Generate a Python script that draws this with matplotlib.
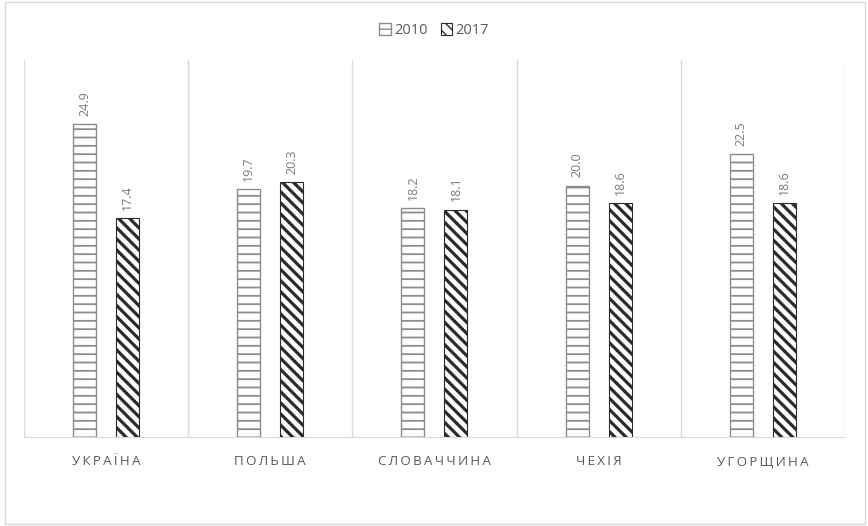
import matplotlib.pyplot as plt
import matplotlib as mpl
import numpy as np
from matplotlib.patches import Rectangle

plt.rcParams['font.family'] = ['Open Sans', 'DejaVu Sans']

countries = ['УКРАЇНА', 'ПОЛЬША', 'СЛОВАЧЧИНА', 'ЧЕХІЯ', 'УГОРЩИНА']
years = ['2010', '2017']
values_2010 = [24.9, 19.7, 18.2, 20.0, 22.5]
values_2017 = [17.4, 20.3, 18.1, 18.6, 18.6]

fig = plt.figure(figsize=(8.68, 5.26), dpi=100)
ax = fig.add_axes([0.0276, 0.1692, 0.9459, 0.7168])

x = np.arange(len(countries))
w = 0.14
off = 0.131

# 2010 - horizontal stripes, 2017 - dense diagonal stripes
with mpl.rc_context({'hatch.linewidth': 1.3}):
    b1 = ax.bar(x - off, values_2010, w, color='white', edgecolor='#8c8c8c',
                hatch='--', linewidth=1.0, label=years[0], zorder=3)
with mpl.rc_context({'hatch.linewidth': 2.3}):
    b2 = ax.bar(x + off, values_2017, w, color='white', edgecolor='#2b2b2b',
                hatch='\\\\\\', linewidth=0.8, label=years[1], zorder=3)

for bars in (b1, b2):
    for r in bars:
        ax.annotate(f'{r.get_height():.1f}', (r.get_x() + r.get_width() / 2, r.get_height()),
                    xytext=(0, 6), textcoords='offset points', rotation=90,
                    ha='center', va='bottom', fontsize=9, color='#7a7a7a')

ax.set_xlim(-0.5, len(countries) - 0.5)
ax.set_ylim(0, 30)
for b in np.arange(-0.5, len(countries), 1.0):
    ax.axvline(b, color='#d9d9d9', lw=1.0, zorder=1)

for s in ['top', 'left', 'right']:
    ax.spines[s].set_visible(False)
ax.spines['bottom'].set_color('#d9d9d9')
ax.set_yticks([])
ax.set_xticks(x)
ax.set_xticklabels(['\u2009'.join(c) for c in countries], fontsize=9.6, color='#595959')
ax.tick_params(axis='x', length=0, pad=13)

fig.legend(handles=[b1, b2], labels=years, loc='center', bbox_to_anchor=(0.5, 0.942),
           ncol=2, frameon=False, fontsize=10.5, handlelength=0.8, handleheight=0.8,
           handletextpad=0.2, columnspacing=0.9, labelcolor='#595959')

fig.patches.append(Rectangle((0.006, 0.003), 0.991, 0.994, transform=fig.transFigure,
                             fill=False, edgecolor='#d9d9d9', lw=1.0))

fig.savefig('out.png', dpi=100)
